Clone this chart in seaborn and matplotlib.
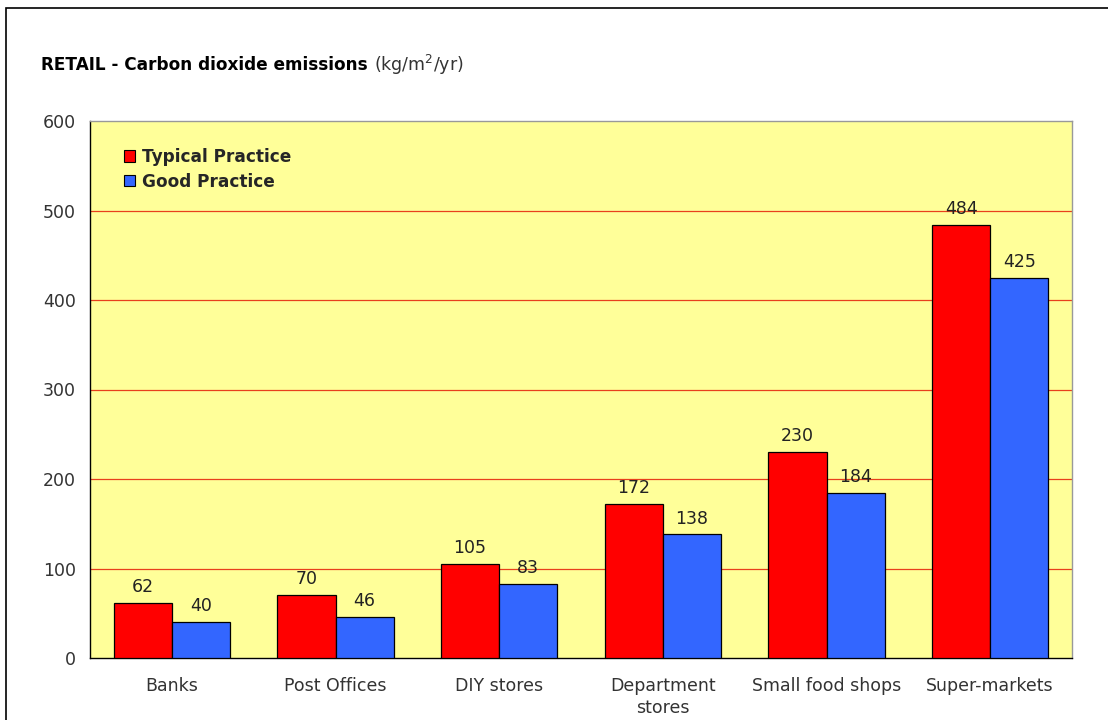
import matplotlib
matplotlib.use("Agg")
import matplotlib.pyplot as plt
import seaborn as sns
import pandas as pd
import numpy as np
from matplotlib.patches import Rectangle
from matplotlib.ticker import FixedLocator, NullFormatter

categories = ["Banks", "Post Offices", "DIY stores", "Department\nstores",
              "Small food shops", "Super-markets"]
typical = [62, 70, 105, 172, 230, 484]
good = [40, 46, 83, 138, 184, 425]
series = ["Typical Practice", "Good Practice"]
colors = ["#ff0000", "#3366ff"]

df = pd.DataFrame({
    "category": categories * 2,
    "value": typical + good,
    "series": [series[0]] * len(categories) + [series[1]] * len(categories),
})

sns.set_style("white")
plt.rcParams["font.family"] = ["DejaVu Sans"]
plt.rcParams["mathtext.fontset"] = "dejavusans"

FS = 12.5

fig = plt.figure(figsize=(11.08, 7.20), dpi=100)
ax = fig.add_axes([90 / 1108, 1 - 658 / 720, (1072 - 90) / 1108, (658 - 121) / 720])
ax.set_facecolor("#ffff99")

sns.barplot(data=df, x="category", y="value", hue="series", palette=colors,
            order=categories, hue_order=series, width=0.71, dodge=True,
            edgecolor="black", linewidth=0.9, saturation=1, ax=ax, zorder=3)

for container in ax.containers:
    ax.bar_label(container, fmt="%d", padding=5, fontsize=FS, color="#222222")

ax.set_ylim(0, 600)
ax.set_xlim(-0.5, len(categories) - 0.5)
ax.set_yticks(np.arange(0, 601, 100))
for y in range(100, 600, 100):
    ax.axhline(y, color="#e8401c", linewidth=0.9, zorder=1)

# category boundaries as ticks, names centred between them
ax.xaxis.set_major_locator(FixedLocator(np.arange(-0.5, len(categories), 1.0)))
ax.xaxis.set_major_formatter(NullFormatter())
ax.xaxis.set_minor_locator(FixedLocator(np.arange(len(categories))))
ax.set_xticklabels(categories, minor=True, linespacing=1.25)
ax.tick_params(axis="x", which="major", direction="out", length=6, width=1, color="black")
ax.tick_params(axis="x", which="minor", length=0, pad=14, labelsize=FS, labelcolor="#333333")
ax.tick_params(axis="y", direction="out", length=5, width=1, color="black",
               labelsize=FS, labelcolor="#333333", pad=5)
ax.set_xlabel("")
ax.set_ylabel("")

for side in ["left", "bottom"]:
    ax.spines[side].set_color("black")
    ax.spines[side].set_linewidth(1.0)
for side in ["top", "right"]:
    ax.spines[side].set_visible(True)
    ax.spines[side].set_color("#999999")
    ax.spines[side].set_linewidth(1.0)

leg = ax.legend(loc="upper left", bbox_to_anchor=(0.021, 0.975), frameon=False,
                prop={"weight": "bold", "size": 12.2}, handlelength=0.65,
                handleheight=0.65, handletextpad=0.4, labelspacing=0.4,
                borderpad=0.3)
for h in leg.legend_handles:
    h.set_edgecolor("black")
    h.set_linewidth(0.8)

# figure frame
fig.patches.append(Rectangle((6 / 1108, -0.1), 1.2, (720 - 8) / 720 + 0.1,
                             transform=fig.transFigure, fill=False,
                             edgecolor="black", linewidth=1.2))

# title: bold lead text followed by the unit in regular weight
t1 = fig.text(41 / 1108, 1 - 65 / 720, "RETAIL - Carbon dioxide emissions ",
              fontsize=12.2, fontweight="bold", color="black", va="center", ha="left")
fig.canvas.draw()
bb = t1.get_window_extent()
fig.text(bb.x1 / 1108, 1 - 65 / 720, r"(kg/m$^2$/yr)", fontsize=12.5,
         color="#333333", va="center", ha="left")

fig.savefig("out.png", dpi=100)
